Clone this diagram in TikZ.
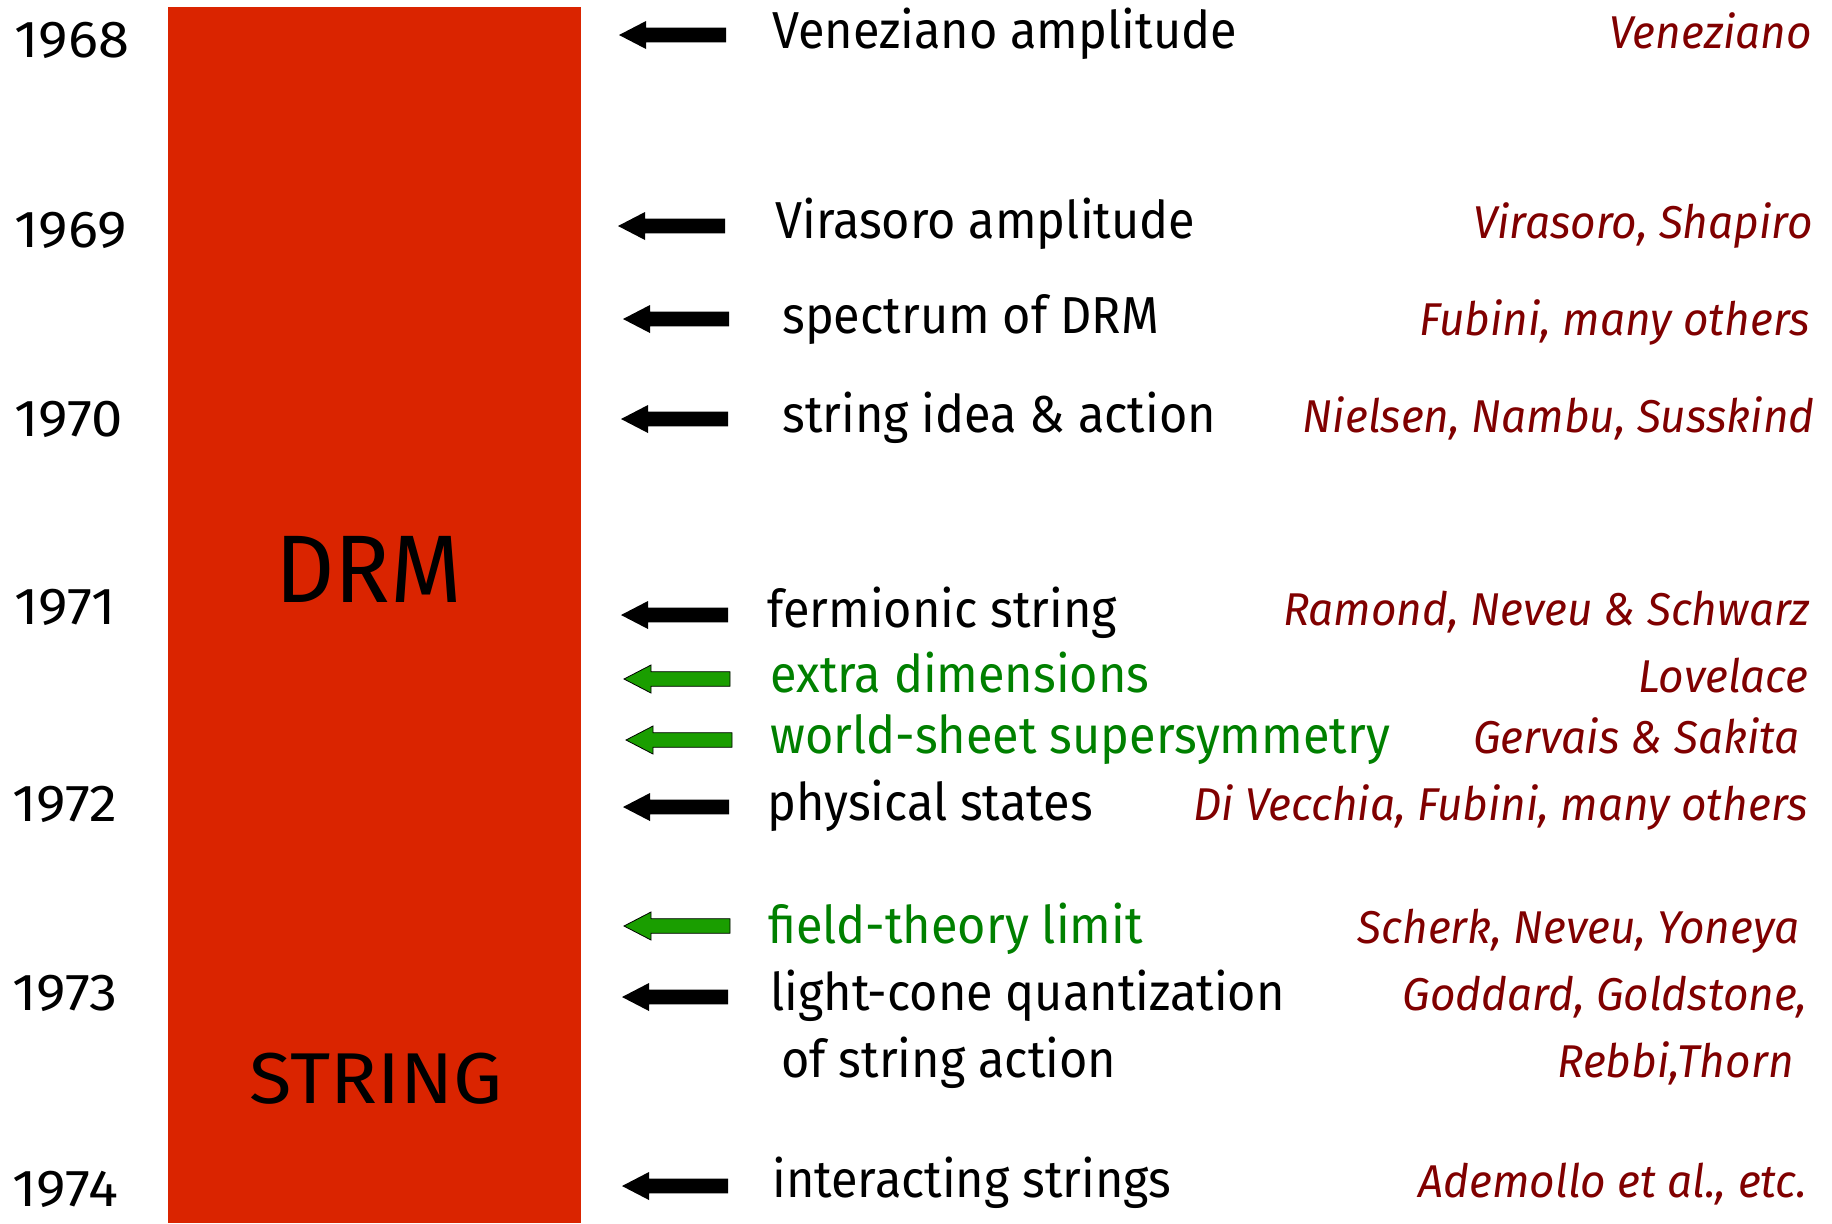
\documentclass[tikz,border=0pt]{standalone}
\usepackage{fontspec}
\setmainfont{Fira Sans}
\newfontfamily\topicfont{Fira Sans}[FakeStretch=0.935]
\newfontfamily\whofont{Fira Sans}[FakeStretch=0.96]
\newfontfamily\widefont{Fira Sans}[FakeStretch=1.08]
\definecolor{barred}{RGB}{218,36,0}
\definecolor{namered}{RGB}{128,0,0}
\definecolor{newgreen}{RGB}{0,128,0}
\definecolor{arrowgreen}{RGB}{26,158,0}
\tikzset{
  year/.style={anchor=base west, inner sep=0pt, font=\widefont\fontsize{26}{26}\selectfont},
  topic/.style={anchor=base west, inner sep=0pt, font=\topicfont\fontsize{26}{26}\selectfont},
  newtopic/.style={topic, text=newgreen},
  who/.style={anchor=base east, inner sep=0pt, text=namered, font=\whofont\itshape\fontsize{23}{23}\selectfont},
  era/.style={anchor=base, inner sep=0pt},
}
\begin{document}
\begin{tikzpicture}[x=0.5pt, y=-0.5pt]
    \useasboundingbox (0,0) rectangle (1832,1223);

    % the bar
    \fill[barred] (168,7) rectangle (581,1223);
    \node[era, font=\whofont\fontsize{48}{48}\selectfont] (drm) at (369,602) {DRM};
    \node[era, font=\widefont\fontsize{36}{36}\selectfont] (string) at (376,1103) {STRING};

    % years
    \node[year] (y68) at (14,57) {1968};
    \node[year] (y69) at (14,247) {1969};
    \node[year] (y70) at (14,436) {1970};
    \node[year] (y71) at (14,624) {1971};
    \node[year] (y72) at (12,821) {1972};
    \node[year] (y73) at (12,1010) {1973};
    \node[year] (y74) at (12,1206) {1974};

    % arrows pointing at the bar
    \foreach \tx/\ty/\ex in {619/35/726, 618/226/725, 623/319/729, 621/419/728,
                            621/615/728, 623/807/729, 622/997/728, 622/1186/728}
        \fill[black] (\tx,\ty) -- (\tx+27,\ty-14) -- (\tx+27,\ty-7.3) -- (\ex,\ty-7.3)
            -- (\ex,\ty+7.3) -- (\tx+27,\ty+7.3) -- (\tx+27,\ty+14) -- cycle;
    \foreach \tx/\ty/\ex in {624/679/730, 626/740/732, 624/926/730}
        \filldraw[fill=arrowgreen, draw=black, line width=0.4pt] (\tx,\ty) -- (\tx+27,\ty-14)
            -- (\tx+27,\ty-7.3) -- (\ex,\ty-7.3) -- (\ex,\ty+7.3) -- (\tx+27,\ty+7.3)
            -- (\tx+27,\ty+14) -- cycle;

    % topics
    \node[topic] (veneziano) at (772,48) {Veneziano amplitude};
    \node[topic] (virasoro) at (775,238) {Virasoro amplitude};
    \node[topic] (spectrum) at (782,333) {spectrum of DRM};
    \node[topic] (idea) at (782,432) {string idea \& action};
    \node[topic] (fermionic) at (767,627) {fermionic string};
    \node[newtopic] (extra) at (770,692) {extra dimensions};
    \node[newtopic] (wssusy) at (770,753) {world-sheet supersymmetry};
    \node[topic] (physical) at (767,820) {physical states};
    \node[newtopic] (fieldlim) at (768,943) {field-theory limit};
    \node[topic] (lightcone) at (770,1010) {light-cone quantization};
    \node[topic] (ofaction) at (781,1077) {of string action};
    \node[topic] (interact) at (772,1197) {interacting strings};

    % authors
    \node[who] (a1) at (1812,48) {Veneziano};
    \node[who] (a2) at (1813,238) {Virasoro, Shapiro};
    \node[who] (a3) at (1810,335) {Fubini, many others};
    \node[who] (a4) at (1815,432) {Nielsen, Nambu, Susskind};
    \node[who] (a5) at (1810,625) {Ramond, Neveu \& Schwarz};
    \node[who] (a6) at (1809,692) {Lovelace};
    \node[who] (a7) at (1800,753) {Gervais \& Sakita};
    \node[who] (a8) at (1808,820) {Di Vecchia, Fubini, many others};
    \node[who] (a9) at (1800,943) {Scherk, Neveu, Yoneya};
    \node[who] (a10) at (1808,1010) {Goddard, Goldstone,};
    \node[who] (a11) at (1794,1077) {Rebbi,Thorn};
    \node[who] (a12) at (1808,1197) {Ademollo et al., etc.};
\end{tikzpicture}
\end{document}
